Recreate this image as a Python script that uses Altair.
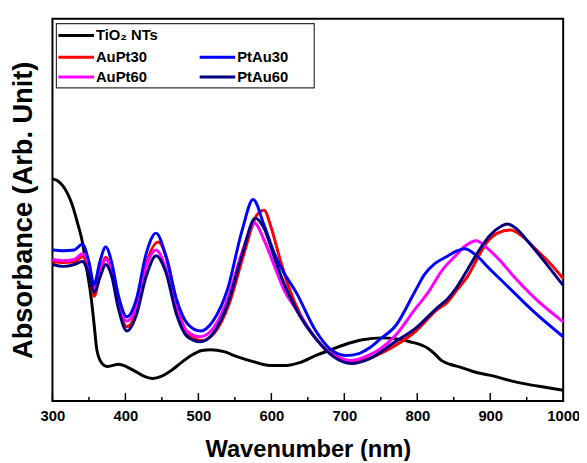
import altair as alt
import pandas as pd

# ---- data (absorbance, arbitrary units) ----
tio2_wl = [300, 307, 314, 320, 326, 334, 341, 346, 353, 357, 361, 368, 375, 383, 391, 401, 413, 425, 437, 450, 463, 477, 490, 505, 517, 535, 553, 575, 598, 620, 640, 661, 679, 700, 725, 752, 770, 790, 815, 825, 833, 845, 860, 880, 905, 930, 950, 975, 1000]
tio2_a = [0.581, 0.576, 0.563, 0.545, 0.519, 0.468, 0.416, 0.357, 0.271, 0.202, 0.132, 0.098, 0.090, 0.093, 0.096, 0.090, 0.078, 0.065, 0.059, 0.065, 0.080, 0.101, 0.119, 0.132, 0.134, 0.129, 0.116, 0.103, 0.093, 0.093, 0.101, 0.119, 0.132, 0.147, 0.160, 0.165, 0.163, 0.155, 0.137, 0.121, 0.106, 0.096, 0.088, 0.075, 0.065, 0.052, 0.044, 0.036, 0.028]

aupt30_wl = [300, 315, 330, 341, 350, 357, 365, 373, 381, 390, 402, 415, 428, 445, 458, 472, 487, 505, 522, 542, 562, 580, 590, 600, 612, 625, 640, 661, 690, 716, 740, 770, 797, 828, 841, 855, 869, 883, 896, 910, 928, 945, 960, 980, 1000]
aupt30_a = [0.364, 0.362, 0.364, 0.377, 0.344, 0.274, 0.328, 0.375, 0.339, 0.253, 0.194, 0.235, 0.354, 0.416, 0.364, 0.240, 0.173, 0.158, 0.178, 0.253, 0.382, 0.486, 0.499, 0.452, 0.370, 0.292, 0.225, 0.163, 0.116, 0.103, 0.116, 0.145, 0.181, 0.240, 0.258, 0.292, 0.326, 0.375, 0.416, 0.439, 0.447, 0.429, 0.401, 0.364, 0.320]

aupt60_wl = [300, 315, 330, 341, 350, 357, 365, 373, 381, 390, 402, 415, 428, 442, 455, 470, 485, 503, 520, 540, 560, 577, 590, 605, 617, 634, 661, 685, 710, 733, 750, 770, 797, 815, 835, 851, 866, 881, 895, 915, 932, 960, 1000]
aupt60_a = [0.370, 0.367, 0.370, 0.385, 0.357, 0.295, 0.344, 0.370, 0.344, 0.266, 0.209, 0.245, 0.349, 0.395, 0.349, 0.240, 0.181, 0.168, 0.189, 0.266, 0.390, 0.465, 0.421, 0.349, 0.292, 0.240, 0.163, 0.119, 0.106, 0.119, 0.137, 0.171, 0.240, 0.284, 0.344, 0.377, 0.406, 0.419, 0.401, 0.364, 0.326, 0.271, 0.207]

ptau30_wl = [300, 315, 330, 341, 350, 357, 365, 373, 381, 390, 402, 415, 428, 442, 455, 470, 485, 503, 520, 540, 560, 575, 590, 605, 617, 634, 661, 680, 702, 720, 733, 750, 770, 797, 810, 824, 840, 855, 865, 880, 900, 928, 960, 1000]
ptau30_a = [0.395, 0.393, 0.395, 0.410, 0.364, 0.305, 0.364, 0.403, 0.364, 0.279, 0.220, 0.266, 0.382, 0.439, 0.382, 0.266, 0.202, 0.183, 0.209, 0.292, 0.447, 0.527, 0.460, 0.382, 0.336, 0.284, 0.183, 0.137, 0.119, 0.124, 0.137, 0.163, 0.196, 0.287, 0.331, 0.359, 0.377, 0.393, 0.398, 0.382, 0.344, 0.292, 0.233, 0.168]

ptau60_wl = [300, 315, 330, 341, 350, 357, 365, 373, 381, 390, 402, 415, 428, 442, 455, 470, 485, 503, 520, 540, 560, 578, 590, 603, 615, 634, 661, 685, 710, 735, 770, 797, 828, 841, 855, 869, 885, 900, 915, 923, 935, 950, 970, 1000]
ptau60_a = [0.357, 0.352, 0.357, 0.365, 0.331, 0.284, 0.323, 0.357, 0.328, 0.245, 0.183, 0.225, 0.323, 0.380, 0.339, 0.227, 0.168, 0.155, 0.176, 0.253, 0.382, 0.478, 0.452, 0.382, 0.318, 0.240, 0.163, 0.116, 0.098, 0.111, 0.155, 0.189, 0.245, 0.266, 0.300, 0.344, 0.395, 0.434, 0.457, 0.463, 0.452, 0.421, 0.375, 0.302]

major_ticks = [300, 400, 500, 600, 700, 800, 900, 1000]
minor_ticks = [350, 450, 550, 650, 750, 850, 950]

series_names = ["TiO\u2082 NTs", "AuPt30", "AuPt60", "PtAu30", "PtAu60"]
series_colors = ["#000000", "#ff0000", "#ff00ff", "#0000ff", "#000080"]
series_wl = [tio2_wl, aupt30_wl, aupt60_wl, ptau30_wl, ptau60_wl]
series_a = [tio2_a, aupt30_a, aupt60_a, ptau30_a, ptau60_a]

# legend layout: (column, row) of each entry
legend_col = [0, 0, 0, 1, 1]
legend_row = [0, 1, 2, 1, 2]

# ---- layout constants (pixels inside the plot area) ----
PLOT_W, PLOT_H = 517, 387
X0, X1 = 300, 1000
Y0, Y1 = 0.0, 1.0


def to_x(px):
    return X0 + px * (X1 - X0) / PLOT_W


def to_y(py):
    return Y1 - py * (Y1 - Y0) / PLOT_H


ROW_Y = [17, 39, 59]
COL_X = [6, 149]
SYM_LEN = 36
BOX = (4, 5, 265, 70)

FONT = "Liberation Sans"

x_scale = alt.Scale(domain=[X0, X1], nice=False, zero=False)
y_scale = alt.Scale(domain=[Y0, Y1], nice=False, zero=False)

x_enc = alt.X(
    "wl:Q",
    scale=x_scale,
    axis=alt.Axis(
        title="Wavenumber (nm)", values=major_ticks, format="d",
        ticks=False, tickSize=0, domain=False, grid=False, labelFlush=False,
        labelFont=FONT, labelFontSize=15, labelFontWeight="bold", labelColor="black",
        labelPadding=8, titleFont=FONT, titleFontSize=24, titleFontWeight="bold",
        titleColor="black", titlePadding=14,
    ),
)
y_enc = alt.Y(
    "abs:Q",
    scale=y_scale,
    axis=alt.Axis(
        title="Absorbance (Arb. Unit)", labels=False, ticks=False, domain=False, grid=False,
        titleFont=FONT, titleFontSize=27.5, titleFontWeight="bold", titleColor="black",
        titlePadding=15,
    ),
)
color_scale = alt.Scale(domain=series_names, range=series_colors)

layers = []

# curves
for name, wl, a in zip(series_names, series_wl, series_a):
    df = pd.DataFrame({"wl": wl, "abs": a, "series": name})
    layers.append(
        alt.Chart(df).mark_line(strokeWidth=3, interpolate="monotone").encode(
            x=x_enc, y=y_enc,
            color=alt.Color("series:N", scale=color_scale, legend=None),
        )
    )

# inward ticks
maj = alt.Chart(pd.DataFrame({"wl": major_ticks})).mark_rule(color="black", strokeWidth=1.5).encode(
    x=x_enc, y=alt.value(PLOT_H), y2=alt.value(PLOT_H - 8))
mnr = alt.Chart(pd.DataFrame({"wl": minor_ticks})).mark_rule(color="black", strokeWidth=1.5).encode(
    x=x_enc, y=alt.value(PLOT_H), y2=alt.value(PLOT_H - 4))
layers += [maj, mnr]

# legend (drawn with marks inside the plot)
box_df = pd.DataFrame({"wl": [to_x(BOX[0])], "wl2": [to_x(BOX[2])],
                       "abs": [to_y(BOX[1])], "abs2": [to_y(BOX[3])]})
layers.append(
    alt.Chart(box_df).mark_rect(fill="white", stroke="#333333", strokeWidth=1.2).encode(
        x=x_enc, x2="wl2:Q", y=y_enc, y2="abs2:Q")
)

sym_rows = []
lab_rows = []
for name, c, r in zip(series_names, legend_col, legend_row):
    sym_rows.append({"series": name, "wl": to_x(COL_X[c]), "wl2": to_x(COL_X[c] + SYM_LEN), "abs": to_y(ROW_Y[r])})
    lab_rows.append({"series": name, "wl": to_x(COL_X[c] + SYM_LEN + 2), "abs": to_y(ROW_Y[r])})

layers.append(
    alt.Chart(pd.DataFrame(sym_rows)).mark_rule(strokeWidth=3).encode(
        x=x_enc, x2="wl2:Q", y=y_enc,
        color=alt.Color("series:N", scale=color_scale, legend=None),
    )
)
layers.append(
    alt.Chart(pd.DataFrame(lab_rows)).mark_text(
        align="left", baseline="middle", font=FONT, fontSize=15, fontWeight="bold", color="black"
    ).encode(x=x_enc, y=y_enc, text="series:N")
)

chart = alt.layer(*layers).properties(
    width=PLOT_W, height=PLOT_H,
    autosize=alt.AutoSizeParams(type="none"),
    padding={"left": 45, "top": 8, "right": 16, "bottom": 58},
).configure_view(stroke="black", strokeWidth=2)

chart.save("out.html", embed_options={"renderer": "svg", "actions": False})
